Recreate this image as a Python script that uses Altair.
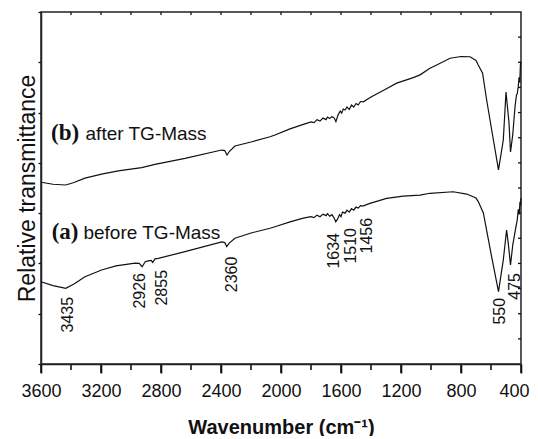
import altair as alt
import pandas as pd

# ---- spectrum (b) after TG-Mass ----
wn_b = [3600, 3520, 3435, 3380, 3307, 3196, 3085, 2929, 2840, 2640, 2395, 2375, 2360, 2345, 2307,
        2200, 2073, 2040, 1940, 1851, 1800, 1780, 1760, 1740, 1720, 1700, 1690, 1675, 1660, 1645,
        1634, 1620, 1605, 1595, 1585, 1573, 1560, 1545, 1530, 1515, 1500, 1485, 1470, 1451, 1400,
        1300, 1229, 1118, 1073, 1007, 962, 873, 800, 740, 700, 685, 656, 629, 584, 550,
        518, 500, 480, 470, 455, 440, 430, 425, 418, 413, 408, 404, 400]
tr_b = [7.23, 7.15, 7.12, 7.22, 7.39, 7.55, 7.68, 7.81, 7.94, 8.18, 8.51, 8.49, 8.31, 8.45, 8.67,
        8.83, 9.04, 9.11, 9.35, 9.53, 9.63, 9.60, 9.72, 9.66, 9.78, 9.72, 9.82, 9.76, 9.84, 9.78,
        9.64, 9.90, 10.06, 9.98, 10.14, 10.10, 10.22, 10.12, 10.30, 10.22, 10.36, 10.30, 10.44, 10.43, 10.62,
        10.94, 11.17, 11.39, 11.50, 11.76, 11.89, 12.16, 12.23, 12.22, 12.07, 11.89, 11.57, 10.50, 8.91, 7.72,
        8.91, 10.82, 9.59, 8.43, 9.11, 10.23, 10.70, 10.75, 11.05, 11.40, 11.20, 11.90, 12.02]

# ---- spectrum (a) before TG-Mass ----
wn_a = [3600, 3520, 3435, 3380, 3307, 3196, 3100, 2973, 2945, 2926, 2905, 2885, 2865, 2855, 2840,
        2818, 2640, 2395, 2375, 2362, 2345, 2307, 2200, 2073, 2040, 1940, 1851, 1800, 1780, 1760,
        1740, 1720, 1700, 1690, 1675, 1660, 1645, 1635, 1625, 1610, 1600, 1590, 1573, 1560, 1545,
        1530, 1515, 1500, 1485, 1470, 1455, 1407, 1296, 1185, 1073, 1007, 853, 762, 700, 685,
        651, 596, 550, 518, 496, 485, 470, 455, 435, 425, 418, 412, 407, 403, 400]
tr_a = [3.27, 3.12, 3.01, 3.18, 3.47, 3.74, 3.90, 4.01, 4.00, 3.87, 4.07, 4.10, 4.12, 4.04, 4.18,
        4.20, 4.47, 4.86, 4.83, 4.67, 4.81, 5.00, 5.21, 5.40, 5.46, 5.65, 5.80, 5.86, 5.82, 5.92,
        5.86, 5.96, 5.90, 5.98, 5.88, 5.94, 5.80, 5.66, 5.74, 5.94, 5.86, 6.04, 6.00, 6.12, 6.04,
        6.18, 6.12, 6.24, 6.20, 6.30, 6.28, 6.39, 6.59, 6.68, 6.72, 6.79, 6.85, 6.76, 6.60, 6.46,
        6.01, 4.27, 2.88, 4.14, 5.33, 4.81, 3.94, 4.73, 5.41, 5.73, 6.15, 5.95, 6.45, 6.30, 6.60]

# ---- peak annotations ----
peak_text = ["3435", "2926", "2855", "2360", "1634", "1510", "1456", "550", "475"]
peak_x = [3420, 2940, 2795, 2325, 1645, 1533, 1425, 540, 440]
peak_y = [2.67, 3.62, 3.74, 4.27, 5.21, 5.41, 5.81, 2.63, 3.62]

# ---- curve labels ----
tag_text = ["(b)", "(a)"]
tag_x = [3533, 3529]
name_text = ["after TG-Mass", "before TG-Mass"]
name_x = [3303, 3317]
label_y = [8.90, 4.97]

# ---- ticks ----
major_ticks = [3600, 3200, 2800, 2400, 2000, 1600, 1200, 800, 400]
minor_ticks = [3400, 3000, 2600, 2200, 1800, 1400, 1000, 600]
top_ticks = [3400, 3200, 3000, 2800, 2600, 2400, 2200, 2000, 1800, 1600, 1400, 1200, 1000, 800, 600]
y_ticks = list(range(0, 15))
right_ticks = list(range(1, 14))

W, H = 480, 352
SANS = "Liberation Sans"
INK = "#111"
TK = "#111"
xs = alt.Scale(domain=[3600, 400], nice=False, zero=False)
ys = alt.Scale(domain=[0, 14], nice=False, zero=False)

df = pd.DataFrame({
    "wn": wn_b + wn_a,
    "tr": tr_b + tr_a,
    "series": ["b"] * len(wn_b) + ["a"] * len(wn_a),
})

lines = alt.Chart(df).mark_line(color=INK, strokeWidth=1.2).encode(
    x=alt.X("wn:Q", scale=xs, axis=alt.Axis(
        values=major_ticks, title="Wavenumber (cm⁻¹)", format="d", zindex=2,
        ticks=True, tickSize=9, tickColor=TK, tickWidth=1.6,
        domainColor="#222", domainWidth=1.5,
        labelPadding=9, labelFlush=False, labelOverlap=False,
        labelFont=SANS, labelFontSize=18, labelColor=INK,
        labelOffset=alt.condition("datum.value == 400", alt.value(-7), alt.value(0)),
        titleFont=SANS, titleFontWeight="bold", titleFontSize=20, titleColor=INK,
        titleY=69, titleBaseline="alphabetic", titleX=W / 2, grid=False)),
    y=alt.Y("tr:Q", scale=ys, axis=alt.Axis(
        values=y_ticks, labels=False, tickSize=3, tickColor=TK, tickWidth=1.3,
        domainColor="#222", domainWidth=1.5, grid=False, zindex=2,
        title="Relative transmittance", titleFont=SANS, titleColor=INK,
        titleFontWeight="normal", titleFontSize=23, titleX=-7, titleY=H / 2,
        titleAngle=-90, titleBaseline="alphabetic", titleAlign="center")),
    detail="series:N",
)

peaks = alt.Chart(pd.DataFrame({"t": peak_text, "x": peak_x, "y": peak_y})).mark_text(
    angle=270, align="right", baseline="middle", font=SANS, fontSize=16, color=INK
).encode(x=alt.X("x:Q", scale=xs), y=alt.Y("y:Q", scale=ys), text="t:N")

tags = alt.Chart(pd.DataFrame({"t": tag_text, "x": tag_x, "y": label_y})).mark_text(
    align="left", baseline="alphabetic", font="Liberation Serif", fontWeight="bold", fontSize=23, color=INK
).encode(x=alt.X("x:Q", scale=xs), y=alt.Y("y:Q", scale=ys), text="t:N")

names = alt.Chart(pd.DataFrame({"t": name_text, "x": name_x, "y": label_y})).mark_text(
    align="left", baseline="alphabetic", font=SANS, fontSize=19, color=INK
).encode(x=alt.X("x:Q", scale=xs), y=alt.Y("y:Q", scale=ys), text="t:N")

major_bottom = alt.Chart(pd.DataFrame({"v": major_ticks})).mark_rule(color=TK, strokeWidth=1.6, clip=False).encode(
    x=alt.X("v:Q", scale=xs), y=alt.value(H), y2=alt.value(H + 9))

minor_bottom = alt.Chart(pd.DataFrame({"v": minor_ticks})).mark_rule(color=TK, strokeWidth=1.6, clip=False).encode(
    x=alt.X("v:Q", scale=xs), y=alt.value(H), y2=alt.value(H + 6))

top_t = alt.Chart(pd.DataFrame({"v": top_ticks})).mark_rule(color=TK, strokeWidth=1.3).encode(
    x=alt.X("v:Q", scale=xs), y=alt.value(0), y2=alt.value(3))

right_t = alt.Chart(pd.DataFrame({"v": right_ticks})).mark_rule(color=TK, strokeWidth=1.3).encode(
    y=alt.Y("v:Q", scale=ys), x=alt.value(W - 3), x2=alt.value(W))

chart = alt.layer(lines, major_bottom, minor_bottom, top_t, right_t, peaks, tags, names).properties(
    width=W, height=H,
    autosize=alt.AutoSizeParams(type="none"),
    padding={"left": 33, "top": 4, "right": 9, "bottom": 72},
).configure_view(
    stroke="#222", strokeWidth=1.5
)

chart.save("out.html", embed_options={"renderer": "svg", "actions": False})
